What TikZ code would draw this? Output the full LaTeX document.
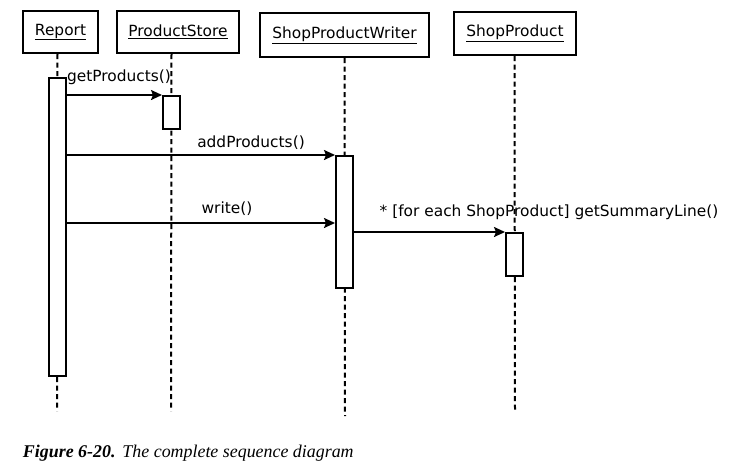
\documentclass[tikz,border=0pt]{standalone}
\usepackage{fontspec}
\setmainfont{DejaVu Sans}
\newfontfamily\captionfont{Liberation Serif}
\usetikzlibrary{arrows.meta}
\newcommand{\heading}[1]{\underline{#1}}
\begin{document}
\begin{tikzpicture}[x=1pt,y=-1pt,
  line width=2pt,
  lbl/.style={font=\fontsize{15.4}{17}\selectfont, inner sep=0pt},
  objbox/.style={draw, fill=white, inner sep=0pt},
  lifeline/.style={dash pattern=on 5pt off 3.5pt},
  act/.style={draw, fill=white, inner sep=0pt, minimum width=17pt},
  msg/.style={-{Stealth[length=11pt,width=10pt,inset=2pt]}},
]
\useasboundingbox[fill=white] (0,0) rectangle (734,475);

% object boxes
\node[objbox, minimum width=75pt, minimum height=42pt] (rep) at (60.5,32) {};
\node[objbox, minimum width=122pt, minimum height=42pt] (ps) at (178,32) {};
\node[objbox, minimum width=169pt, minimum height=44pt] (spw) at (344.5,35) {};
\node[objbox, minimum width=122pt, minimum height=43pt] (sp) at (515,33.5) {};
\node[lbl] at (rep) {\heading{Report}};
\node[lbl] at (ps) {\heading{ProductStore}};
\node[lbl] at (spw) {\heading{ShopProductWriter}};
\node[lbl] at (sp) {\heading{ShopProduct}};

% lifeline end points
\coordinate (repend) at (57,411);
\coordinate (psend) at (171,411);
\coordinate (spwend) at (345,416);
\coordinate (spend) at (515,411);

% activation bar positions
\coordinate (arepc) at (57.5,227);
\coordinate (apsc) at (171.5,112.5);
\coordinate (aspwc) at (344.5,222);
\coordinate (aspc) at (514.5,254.5);

% lifelines
\draw[lifeline] (rep.south -| arepc) -- (repend);
\draw[lifeline] (ps.south -| apsc) -- (psend);
\draw[lifeline] (spw.south -| aspwc) -- (spwend);
\draw[lifeline] (sp.south -| aspc) -- (spend);

% activation bars
\node[act, minimum height=298pt] (arep) at (arepc) {};
\node[act, minimum height=33pt] (aps) at (apsc) {};
\node[act, minimum height=132pt] (aspw) at (aspwc) {};
\node[act, minimum height=43pt] (asp) at (aspc) {};

% messages
\draw[msg] (arep.east |- aps.north) -- (aps.north west);
\node[lbl] (m1) at (119,77) {getProducts()};
\draw[msg] (arep.east |- aspw.north) -- (aspw.north west);
\node[lbl] (m2) at (251,143) {addProducts()};
\draw[msg] (arep.east |- 0,223) -- (aspw.west |- 0,223);
\node[lbl] (m3) at (227,209) {write()};
\draw[msg] (aspw.east |- asp.north) -- (asp.north west);
\node[lbl] (m4) at (549,212) {* [for each ShopProduct] getSummaryLine()};

% caption
\node[anchor=west, inner sep=0pt, font=\captionfont\fontsize{17.9}{20}\selectfont] (cap) at (22,453)
  {\textbf{\textit{Figure 6-20.}}\hspace{7pt}\textit{The complete sequence diagram}};
\end{tikzpicture}
\end{document}
